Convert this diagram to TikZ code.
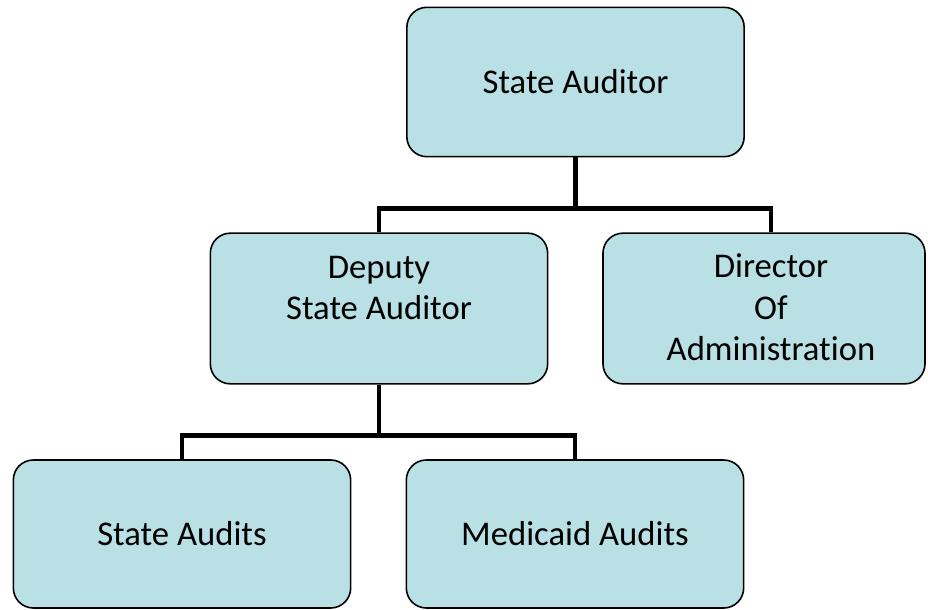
\documentclass[tikz,border=0pt]{standalone}
\usepackage{fontspec}
\setmainfont{Carlito}[Ligatures={NoCommon}]
\usetikzlibrary{calc}
\definecolor{boxfill}{RGB}{185,224,228}
\begin{document}
\begin{tikzpicture}[x=0.75pt, y=-0.75pt,
    orgbox/.style={draw=black, line width=1.2pt, fill=boxfill, rounded corners=15pt,
      minimum width=253pt, minimum height=112pt, align=center,
      font=\fontsize{26}{31}\selectfont},
    orgtext/.style={align=center, font=\fontsize{26}{31}\selectfont},
    link/.style={draw=black, line width=3.6pt}]
      \useasboundingbox (0, 0) rectangle (928, 610);

      \node[orgbox] (top) at (575.5, 82) {State Auditor};
      \node[orgbox, minimum height=113pt] (dep) at (379, 308.5) {Deputy\\State Auditor\\\mbox{}};
      \node[orgbox, minimum width=241.5pt, minimum height=113pt] (dir) at (764, 308.5) {};
      \node[orgtext] (dirtext) at ($(dir.center)+(7, -1)$) {Director\\Of\\Administration};
      \node[orgbox, minimum height=111pt] (sa) at (182, 534) {State Audits};
      \node[orgbox, minimum height=111pt] (ma) at (575, 534) {Medicaid Audits};

      \draw[link] (top.south) -- ++(0, 51) coordinate (j1);
      \draw[link] (dep.north) |- (j1) -| (dirtext.center |- dir.north);
      \draw[link] (dep.south) -- ++(0, 51) coordinate (j2);
      \draw[link] (sa.north) |- (j2) -| (ma.north);
\end{tikzpicture}
\end{document}
